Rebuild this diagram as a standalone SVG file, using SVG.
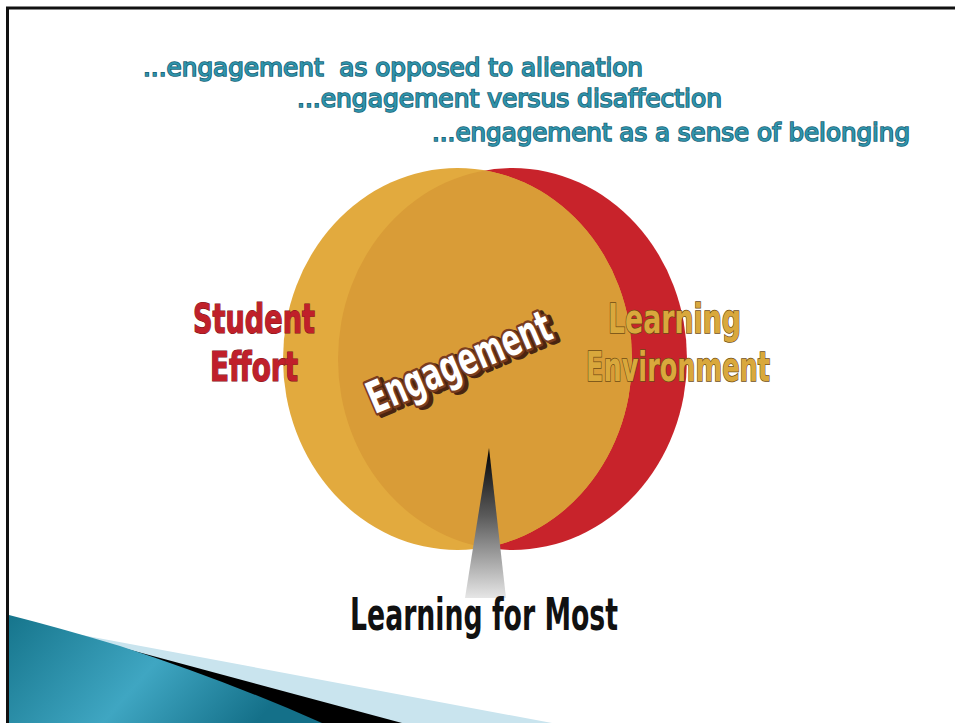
<svg xmlns="http://www.w3.org/2000/svg" width="955" height="723" viewBox="0 0 955 723">
  <defs>
    <linearGradient id="tealGrad" x1="0" y1="0" x2="1" y2="0.3">
      <stop offset="0" stop-color="#16758c"/>
      <stop offset="0.55" stop-color="#3fa6c2"/>
      <stop offset="1" stop-color="#147089"/>
    </linearGradient>
    <linearGradient id="pointerGrad" x1="0" y1="0" x2="0" y2="1">
      <stop offset="0" stop-color="#000000"/>
      <stop offset="0.45" stop-color="#5a5a5a"/>
      <stop offset="1" stop-color="#e6e6e6"/>
    </linearGradient>
    <clipPath id="goldClip">
      <ellipse cx="457.5" cy="359" rx="174.5" ry="191"/>
    </clipPath>
  </defs>
  <style>
    .tag { font-family: "Comic Sans MS", "DejaVu Sans", sans-serif; font-weight: normal; font-size: 24px; fill: #2f93aa; stroke: #1b6478; stroke-width: 1.6px; paint-order: stroke; white-space: pre; }
    .cond { font-family: "DejaVu Sans Condensed", "DejaVu Sans", "Liberation Sans", sans-serif; font-weight: bold; font-stretch: condensed; }
    .red { fill: #c0202a; stroke: #7e1218; stroke-width: 1.2px; paint-order: stroke; font-size: 41px; }
    .gold { fill: #d9a83c; stroke: #6e4c14; stroke-width: 1.5px; paint-order: stroke; font-size: 41px; }
  </style>

  <rect x="0" y="0" width="955" height="723" fill="#ffffff"/>

  <!-- frame -->
  <path d="M7.5 723 V8 H955" fill="none" stroke="#111111" stroke-width="3"/>

  <!-- bottom-left wedge -->
  <g id="wedge">
    <polygon points="55,630 552,723 9,723" fill="#c9e4ee"/>
    <polygon points="60,631 402,723 9,723" fill="#000000"/>
    <path d="M9 615 Q 60 628 120 646 Q 230 682 322 723 L9 723 Z" fill="url(#tealGrad)"/>
  </g>

  <!-- tag lines -->
  <g id="tags">
    <text class="tag" x="143" y="76" textLength="500" lengthAdjust="spacingAndGlyphs">...engagement  as opposed to alienation</text>
    <text class="tag" x="297" y="107" textLength="425" lengthAdjust="spacingAndGlyphs">...engagement versus disaffection</text>
    <text class="tag" x="432" y="141" textLength="478" lengthAdjust="spacingAndGlyphs">...engagement as a sense of belonging</text>
  </g>

  <!-- circles -->
  <g id="learning-environment-circle">
    <ellipse cx="512.5" cy="359" rx="174.5" ry="191" fill="#c8232b"/>
  </g>
  <g id="student-effort-circle">
    <ellipse cx="457.5" cy="359" rx="174.5" ry="191" fill="#e2aa3e"/>
  </g>
  <g id="engagement-overlap">
    <ellipse cx="512.5" cy="359" rx="174.5" ry="191" fill="#d99c37" clip-path="url(#goldClip)"/>
  </g>

  <!-- labels -->
  <g id="student-effort">
    <text class="cond red" x="193" y="333" textLength="122" lengthAdjust="spacingAndGlyphs">Student</text>
    <text class="cond red" x="210" y="381" textLength="88" lengthAdjust="spacingAndGlyphs">Effort</text>
  </g>
  <g id="learning-environment">
    <text class="cond gold" x="608" y="333" textLength="133" lengthAdjust="spacingAndGlyphs">Learning</text>
    <text class="cond gold" x="586" y="381" textLength="184" lengthAdjust="spacingAndGlyphs">Environment</text>
  </g>
  <g id="engagement">
    <g transform="translate(465,376) rotate(-23)">
      <text class="cond" x="3" y="3" text-anchor="middle" font-size="44" fill="#4a2410" stroke="#4a2410" stroke-width="6" stroke-linejoin="round" textLength="196" lengthAdjust="spacingAndGlyphs">Engagement</text>
      <text class="cond" x="0" y="0" text-anchor="middle" font-size="44" fill="#ffffff" stroke="#7a3d1e" stroke-width="5" stroke-linejoin="round" paint-order="stroke" textLength="196" lengthAdjust="spacingAndGlyphs">Engagement</text>
    </g>
  </g>

  <!-- connector: pointer -->
  <g id="connectors">
    <polygon points="489,448 506,598 465,598" fill="url(#pointerGrad)"/>
  </g>

  <g id="learning-for-most">
    <text class="cond" x="350" y="630" font-size="45" fill="#111111" textLength="268" lengthAdjust="spacingAndGlyphs">Learning for Most</text>
  </g>
</svg>
